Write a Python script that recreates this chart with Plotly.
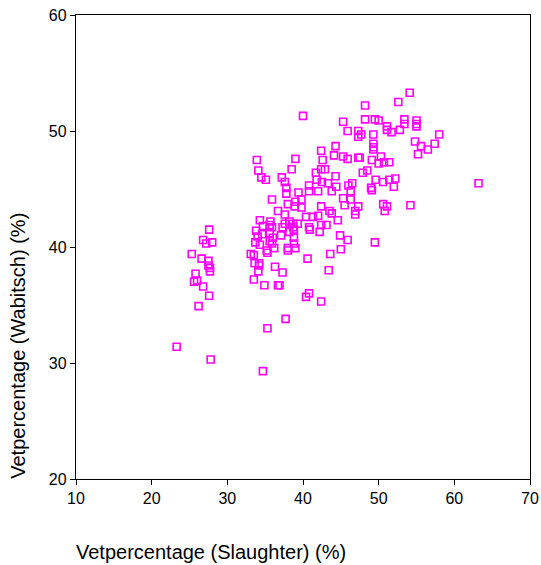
import plotly.graph_objects as go

# Body-fat percentage: slaughter-based estimate vs. Wabitsch estimate
slaughter = [
    23.3, 27.6, 26.8, 27.2, 28.0, 25.3, 26.6, 27.5, 27.5, 27.7, 27.7, 25.8, 25.6, 26.0,
    26.8, 27.6, 26.2, 27.8, 33.9, 34.1, 34.5, 35.1, 37.2, 37.6, 37.8, 37.8, 35.9, 38.0,
    36.7, 37.6, 34.3, 35.7, 35.6, 33.8, 34.7, 35.9, 34.6, 34.0, 33.7, 34.3, 35.6, 35.9,
    36.2, 35.2, 35.3, 36.0, 35.6, 33.1, 33.5, 33.6, 34.2, 34.2, 34.1, 33.5, 36.3, 37.3,
    34.9, 36.7, 34.7, 35.3, 37.7, 37.6, 38.2, 37.3, 38.7, 38.2, 38.8, 37.1, 38.8, 38.8,
    38.0, 39.0, 38.0, 36.9, 38.5, 39.0, 38.9, 39.0, 39.4, 39.3, 38.7, 40.0, 39.8, 39.8,
    40.4, 41.3, 42.0, 40.8, 40.8, 41.7, 42.4, 42.9, 41.8, 42.5, 43.3, 44.3, 44.4, 42.0,
    43.8, 42.4, 43.5, 43.8, 42.4, 44.1, 42.6, 44.3, 45.3, 45.3, 45.3, 45.5, 44.6, 42.4,
    43.1, 40.8, 40.9, 42.2, 44.9, 45.9, 45.0, 43.6, 40.6, 43.4, 40.8, 40.4, 42.4, 49.5,
    45.9, 47.3, 47.7, 47.3, 48.2, 48.2, 49.5, 50.0, 51.1, 51.1, 51.7, 52.8, 52.6, 54.1,
    53.4, 53.4, 55.0, 55.0, 55.0, 58.0, 54.8, 55.6, 56.5, 57.4, 55.2, 63.2, 54.2, 49.3,
    49.3, 49.3, 49.3, 45.9, 47.3, 47.5, 49.1, 50.0, 50.3, 50.7, 51.4, 47.9, 48.5, 46.0,
    46.5, 46.3, 49.6, 50.6, 51.4, 52.2, 52.0, 49.0, 49.1, 46.3, 47.3, 46.9, 46.9, 50.6,
    51.1, 50.8,
]
wabitsch = [
    31.4, 41.5, 40.6, 40.3, 40.4, 39.4, 39.0, 38.8, 38.4, 38.2, 37.9, 37.7, 37.0, 37.1,
    36.6, 35.8, 34.9, 30.3, 47.5, 46.6, 46.0, 45.8, 46.0, 45.6, 45.1, 44.6, 44.1, 43.7,
    43.1, 42.8, 42.3, 42.2, 41.9, 41.4, 41.8, 41.7, 41.1, 40.9, 40.4, 40.2, 40.5, 40.3,
    39.9, 39.7, 39.5, 40.8, 41.2, 39.4, 39.3, 38.6, 38.6, 38.4, 37.9, 37.2, 38.3, 37.8,
    36.7, 36.7, 29.3, 33.0, 33.8, 42.0, 42.2, 41.7, 41.7, 41.3, 41.5, 41.0, 40.8, 40.3,
    39.9, 39.9, 39.7, 36.7, 46.7, 47.6, 43.5, 43.9, 44.7, 42.0, 42.0, 51.3, 44.1, 43.4,
    42.6, 42.6, 42.7, 45.3, 44.8, 46.4, 46.7, 46.7, 45.8, 45.6, 45.5, 46.1, 45.2, 44.8,
    44.8, 43.5, 43.1, 42.9, 48.3, 47.9, 47.5, 48.7, 50.8, 47.8, 44.2, 43.6, 42.3, 41.9,
    41.9, 41.7, 41.5, 41.3, 41.0, 40.6, 39.8, 39.4, 39.0, 38.0, 36.0, 35.7, 35.3, 40.4,
    50.0, 50.0, 49.7, 49.5, 52.2, 51.0, 51.0, 50.9, 50.4, 50.1, 49.9, 50.1, 52.5, 53.3,
    51.0, 50.6, 50.9, 50.6, 50.4, 49.7, 49.1, 48.7, 48.4, 48.9, 48.0, 45.5, 43.6, 49.7,
    48.9, 48.6, 48.4, 47.6, 47.7, 47.7, 47.5, 47.2, 47.8, 47.3, 47.3, 46.4, 46.6, 45.3,
    45.5, 44.8, 45.8, 45.6, 45.8, 45.9, 45.2, 45.1, 44.9, 44.1, 43.5, 43.1, 42.8, 43.7,
    43.5, 43.1,
]

x_ticks = [10, 20, 30, 40, 50, 60, 70]
y_ticks = [20, 30, 40, 50, 60]
x_title = "Vetpercentage (Slaughter) (%)"
y_title = "Vetpercentage (Wabitsch) (%)"

FONT = "Arial, Liberation Sans, sans-serif"

fig = go.Figure(
    go.Scatter(
        x=slaughter,
        y=wabitsch,
        mode="markers",
        marker=dict(
            symbol="square-open",
            size=7,
            color="#ff00ff",
            line=dict(width=1.6, color="#ff00ff"),
        ),
        showlegend=False,
        hoverinfo="x+y",
    )
)

axis_common = dict(
    automargin=False,
    showgrid=False,
    zeroline=False,
    showline=True,
    linecolor="black",
    linewidth=1.3,
    mirror=True,
    ticks="outside",
    ticklen=5,
    tickwidth=1.3,
    tickcolor="black",
    tickfont=dict(family=FONT, size=16, color="black"),
)

fig.update_xaxes(range=[10, 70], tickvals=x_ticks, **axis_common)
fig.update_yaxes(range=[20, 60], tickvals=y_ticks, **axis_common)

fig.update_layout(
    width=541,
    height=565,
    margin=dict(l=76, r=11, t=15, b=86),
    paper_bgcolor="white",
    plot_bgcolor="white",
    font=dict(family=FONT, color="black"),
    annotations=[
        dict(
            text=x_title,
            xref="paper", yref="paper",
            x=-0.004, y=-0.157,
            xanchor="left", yanchor="middle",
            showarrow=False,
            font=dict(family=FONT, size=20, color="black"),
        ),
        dict(
            text=y_title,
            xref="paper", yref="paper",
            x=-0.128, y=-0.004,
            xanchor="center", yanchor="bottom",
            textangle=-90,
            showarrow=False,
            font=dict(family=FONT, size=20, color="black"),
        ),
    ],
)

fig.write_html("out.html")
